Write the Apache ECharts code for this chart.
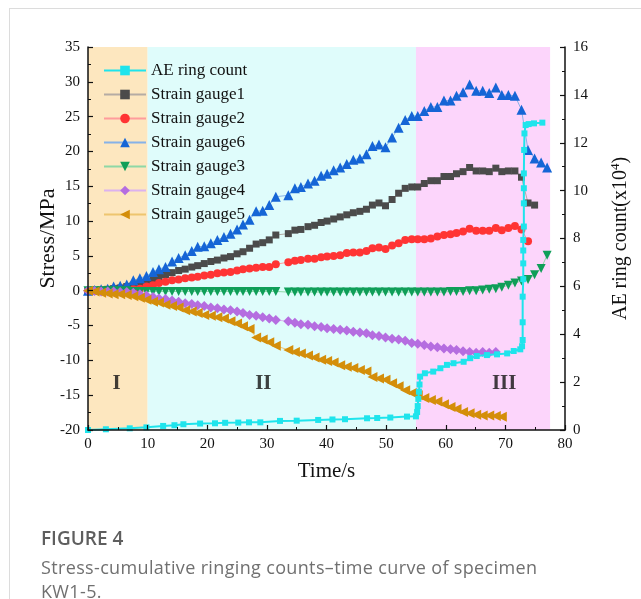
<!DOCTYPE html>
<html>
<head>
<meta charset="utf-8">
<title>KW1-5 stress / AE</title>
<script src="https://cdn.jsdelivr.net/npm/echarts@6/dist/echarts.min.js"></script>
<style>
  html, body { margin: 0; padding: 0; background: #fff; }
  .card { position: absolute; left: 9px; top: 8px; width: 640px; height: 600px;
    border-left: 1px solid #dcdcdc; border-top: 1px solid #dcdcdc; }
  #main { position: absolute; left: 0; top: 0; width: 641px; height: 599px; }
  .fig { position: absolute; left: 41px; top: 525px; font-family: 'Open Sans'; font-size: 19px;
    font-weight: 600; color: #5e5e5e; }
  .cap { position: absolute; left: 41px; top: 555px; font-family: 'Open Sans'; font-size: 18px;
    letter-spacing: 0.35px; line-height: 24px; color: #707070; white-space: nowrap; }
</style>
</head>
<body>
<div class="card"></div>
<div id="main"></div>
<div class="fig">FIGURE 4</div>
<div class="cap">Stress-cumulative ringing counts–time curve of specimen<br>KW1-5.</div>

<script>
// sample times of the strain gauges (s), one sample missing near 32.6 s
const timeS = [0, 1.1, 2.2, 3.3, 4.3, 5.4, 6.5, 7.6, 8.7, 9.8,
  10.9, 11.9, 13.0, 14.1, 15.2, 16.3, 17.4, 18.4, 19.5, 20.6,
  21.7, 22.8, 23.9, 25.0, 26.0, 27.1, 28.2, 29.3, 30.4, 31.5,
  33.6, 34.7, 35.7, 36.9, 38.0, 39.1, 40.1, 41.2, 42.3, 43.4,
  44.5, 45.6, 46.7, 47.7, 48.8, 49.9, 51.0, 52.1, 53.2, 54.3,
  55.3, 56.4, 57.5, 58.6, 59.7, 60.8, 61.8, 62.9, 64.0, 65.1,
  66.2, 67.3, 68.4, 69.4, 70.5, 71.6, 72.7, 73.8, 74.9, 76.0,
  77.0];

// stress, MPa
const gauge1 = [0, 0.05, 0.1, 0.2, 0.3, 0.4, 0.6, 0.8, 1.1, 1.3,
  1.6, 1.9, 2.3, 2.6, 2.9, 3.1, 3.4, 3.6, 3.9, 4.2,
  4.4, 4.7, 4.9, 5.3, 5.6, 6.1, 6.7, 6.9, 7.3, 8.0,
  8.2, 8.7, 8.8, 9.2, 9.4, 9.8, 10.0, 10.3, 10.6, 10.9,
  11.2, 11.4, 11.7, 12.3, 12.6, 12.2, 13.1, 14.0, 14.7, 14.9,
  14.9, 15.4, 15.8, 15.8, 16.4, 16.4, 16.8, 17.1, 17.7, 17.2,
  17.2, 17.1, 17.6, 17.1, 17.2, 17.2, 16.3, 12.6, 12.3];

const gauge2 = [0, 0, 0, 0.05, 0.1, 0.1, 0.15, 0.2, 0.3, 0.6,
  0.8, 1.1, 1.3, 1.5, 1.6, 1.8, 1.9, 2.0, 2.2, 2.3,
  2.5, 2.6, 2.7, 2.9, 3.1, 3.2, 3.3, 3.4, 3.4, 3.8,
  4.1, 4.3, 4.4, 4.6, 4.6, 4.8, 4.9, 5.0, 5.1, 5.4,
  5.5, 5.5, 5.7, 6.1, 6.2, 6.0, 6.5, 6.8, 7.3, 7.4,
  7.4, 7.4, 7.5, 7.8, 8.0, 8.1, 8.3, 8.5, 8.9, 8.6,
  8.6, 8.6, 9.0, 8.7, 9.0, 9.3, 8.8, 7.1];

const gauge6 = [0, 0.1, 0.2, 0.3, 0.6, 0.7, 0.9, 1.5, 1.8, 2.1,
  2.7, 3.1, 3.4, 4.2, 4.7, 5.1, 5.7, 6.3, 6.4, 6.8,
  7.3, 7.7, 8.2, 8.8, 9.5, 10.2, 11.4, 11.5, 12.3, 13.5,
  13.7, 14.7, 14.9, 15.4, 15.8, 16.5, 16.8, 17.3, 17.7, 18.2,
  18.8, 19.0, 19.6, 20.8, 21.0, 20.6, 22.0, 23.4, 24.5, 25.1,
  25.1, 25.8, 26.4, 26.4, 27.3, 27.3, 28.0, 28.5, 29.6, 28.7,
  28.7, 28.4, 29.2, 28.1, 28.1, 28.0, 26.0, 20.2, 19.0, 18.4,
  17.7];

const gauge3 = [0, 0, 0, 0, 0, 0, 0, -0.1, -0.1, -0.1,
  -0.1, -0.1, -0.1, -0.1, -0.1, -0.1, -0.1, -0.1, -0.1, -0.1,
  -0.1, -0.1, -0.1, -0.1, -0.1, -0.1, -0.1, -0.1, -0.1, -0.1,
  -0.2, -0.2, -0.2, -0.2, -0.2, -0.2, -0.2, -0.2, -0.2, -0.2,
  -0.2, -0.2, -0.2, -0.2, -0.2, -0.2, -0.2, -0.2, -0.2, -0.2,
  -0.2, -0.2, -0.2, -0.2, -0.2, -0.1, -0.1, -0.1, 0, 0,
  0.1, 0.2, 0.3, 0.5, 0.8, 1.1, 1.4, 1.6, 2.3, 3.2,
  5.1];

const gauge4 = [0, -0.05, -0.1, -0.1, -0.1, -0.2, -0.2, -0.3, -0.5, -0.7,
  -0.9, -1.1, -1.2, -1.4, -1.6, -1.8, -1.9, -2.1, -2.2, -2.4,
  -2.5, -2.7, -2.8, -3.0, -3.2, -3.5, -3.6, -3.8, -4.0, -4.2,
  -4.4, -4.6, -4.8, -4.9, -5.1, -5.2, -5.4, -5.5, -5.6, -5.7,
  -5.9, -6.0, -6.1, -6.4, -6.5, -6.7, -6.9, -7.0, -7.2, -7.5,
  -7.6, -7.8, -8.0, -8.1, -8.3, -8.4, -8.5, -8.7, -8.8, -8.9,
  -8.8, -8.9, -8.8];

const gauge5 = [0, -0.1, -0.3, -0.4, -0.5, -0.5, -0.6, -0.8, -1.0, -1.3,
  -1.6, -1.7, -2.0, -2.2, -2.4, -2.8, -3.0, -3.2, -3.5, -3.6,
  -3.8, -4.0, -4.4, -4.7, -5.1, -5.5, -6.7, -7.0, -7.4, -7.9,
  -8.5, -8.8, -9.0, -9.3, -9.6, -9.9, -10.1, -10.3, -10.7, -10.9,
  -11.1, -11.4, -11.6, -12.4, -12.6, -12.8, -13.3, -13.7, -14.3, -14.7,
  -15.0, -15.4, -15.7, -15.9, -16.3, -16.7, -17.0, -17.4, -17.6, -17.8,
  -17.9, -17.9, -18.0, -18.1];

// AE cumulative ring count (x10^4)
const aeTime = [0, 3.0, 7.0, 9.8, 12.6, 14.5, 16.0, 18.8, 21.3, 23.0,
  25.2, 27.0, 28.9, 32.2, 35.0, 38.6, 41.0, 43.1, 46.8, 48.5,
  50.7, 53.5, 55.0, 55.2, 55.3, 55.4, 55.5, 55.6, 55.7, 56.5,
  57.9, 59.1, 60.2, 61.3, 63.0, 64.1, 65.2, 66.9, 68.6, 70.3,
  71.4, 72.5, 72.8, 72.9, 72.9, 72.9, 73.0, 73.0, 73.0, 73.0,
  73.1, 73.1, 73.1, 73.1, 73.15, 73.2, 73.4, 73.9, 74.8, 76.2];
const aeCount = [0, 0.03, 0.07, 0.11, 0.17, 0.2, 0.24, 0.27, 0.28, 0.3,
  0.31, 0.32, 0.32, 0.38, 0.39, 0.42, 0.44, 0.45, 0.49, 0.5,
  0.52, 0.56, 0.57, 0.75, 1.0, 1.3, 1.6, 1.9, 2.23, 2.37,
  2.44, 2.58, 2.72, 2.79, 2.85, 3.0, 3.09, 3.13, 3.16, 3.2,
  3.3, 3.37, 3.5, 3.76, 4.5, 5.57, 6.3, 6.96, 7.5, 7.94,
  8.5, 9.47, 10.1, 10.72, 11.7, 12.39, 12.74, 12.78, 12.81, 12.84];

// loading stages I / II / III (s)
const stageBounds = [0, 10, 55, 77.5];
const stageNames = ['I', 'II', 'III'];

const serif = 'Liberation Serif';
const stageColors = ['#fde7bf', '#dffcfb', '#fcd5fb'];

function pairs(xs, ys) {
  return ys.map((v, i) => [xs[i], v]);
}

function gauge(name, values, symbol, rotate, mark, line, size) {
  return {
    name: name,
    type: 'line',
    data: pairs(timeS, values),
    symbol: symbol,
    symbolRotate: rotate,
    symbolSize: size,
    showAllSymbol: true,
    itemStyle: { color: mark },
    lineStyle: { color: line, width: 1 },
    z: 3
  };
}

const chart = echarts.init(document.getElementById('main'));

const tickCommon = {
  axisLine: { show: true, onZero: false, lineStyle: { color: '#111', width: 1.5 } },
  axisTick: { show: true, inside: true, length: 5, lineStyle: { color: '#111', width: 1.2 } },
  minorTick: { show: true, splitNumber: 2, length: 3, lineStyle: { color: '#111', width: 1 } },
  splitLine: { show: false },
  nameMoveOverlap: false,
  z: 10
};

const tickLabel = { fontFamily: serif, fontSize: 15, color: '#111' };

chart.setOption({
  animation: false,
  grid: { left: 88, right: 76, top: 47, bottom: 169 },
  legend: {
    data: ['AE ring count', 'Strain gauge1', 'Strain gauge2', 'Strain gauge6',
      'Strain gauge3', 'Strain gauge4', 'Strain gauge5'],
    orient: 'vertical',
    left: 98,
    top: 57,
    itemWidth: 42,
    itemHeight: 12,
    itemGap: 7,
    textStyle: { fontFamily: serif, fontSize: 17, color: '#111' }
  },
  xAxis: Object.assign({}, tickCommon, {
    type: 'value',
    min: 0, max: 80, interval: 10,
    name: 'Time/s',
    nameLocation: 'middle',
    nameGap: 31,
    nameTextStyle: { fontFamily: serif, fontSize: 21, color: '#111' },
    axisLabel: Object.assign({ margin: 7 }, tickLabel)
  }),
  yAxis: [
    Object.assign({}, tickCommon, {
      type: 'value',
      min: -20, max: 35, interval: 5,
      name: 'Stress/MPa',
      nameLocation: 'middle',
      nameRotate: 90,
      nameGap: 29,
      nameTextStyle: { fontFamily: serif, fontSize: 22, color: '#111' },
      axisLabel: Object.assign({ margin: 8 }, tickLabel)
    }),
    Object.assign({}, tickCommon, {
      type: 'value',
      position: 'right',
      min: 0, max: 16, interval: 2,
      name: '{t|AE ring count(x10}{s|4}{t|)}',
      nameLocation: 'middle',
      nameRotate: 90,
      nameGap: 44,
      nameTextStyle: {
        rich: {
          t: { fontFamily: serif, fontSize: 20, color: '#111' },
          s: { fontFamily: serif, fontSize: 13, color: '#111', padding: [0, 0, 10, 0] }
        }
      },
      axisLabel: Object.assign({ margin: 8 }, tickLabel)
    })
  ],
  series: [
    {
      name: 'stages',
      type: 'line',
      data: [],
      silent: true,
      z: 1,
      markArea: {
        silent: true,
        data: stageNames.map((n, i) => [
          { xAxis: stageBounds[i], itemStyle: { color: stageColors[i] } },
          { xAxis: stageBounds[i + 1] }
        ])
      }
    },
    {
      name: 'stageLabels',
      type: 'scatter',
      silent: true,
      symbolSize: 1,
      itemStyle: { color: 'rgba(0,0,0,0)' },
      data: [[4.8, -13.3], [29.4, -13.3], [69.8, -13.3]],
      label: {
        show: true,
        position: 'inside',
        formatter: p => stageNames[p.dataIndex],
        fontFamily: serif, fontSize: 21, fontWeight: 'bold', color: '#111'
      },
      z: 2
    },
    gauge('Strain gauge1', gauge1, 'rect', 0, '#4b4b4b', '#b5aca4', 7),
    gauge('Strain gauge2', gauge2, 'circle', 0, '#ff3434', '#ff9c9c', 8),
    gauge('Strain gauge6', gauge6, 'triangle', 0, '#1565d6', '#86b2e8', 10),
    gauge('Strain gauge3', gauge3, 'triangle', 180, '#0f9e58', '#8ed8a6', 9),
    gauge('Strain gauge4', gauge4, 'diamond', 0, '#b56de0', '#dcb2ef', 10),
    gauge('Strain gauge5', gauge5, 'triangle', 90, '#d48e0a', '#eec56f', 10),
    {
      name: 'AE ring count',
      type: 'line',
      yAxisIndex: 1,
      data: pairs(aeTime, aeCount),
      symbol: 'rect',
      symbolSize: 6,
      showAllSymbol: true,
      itemStyle: { color: '#1fe4ec' },
      lineStyle: { color: '#1fe4ec', width: 2 },
      z: 4
    }
  ]
});
</script>
</body>
</html>
